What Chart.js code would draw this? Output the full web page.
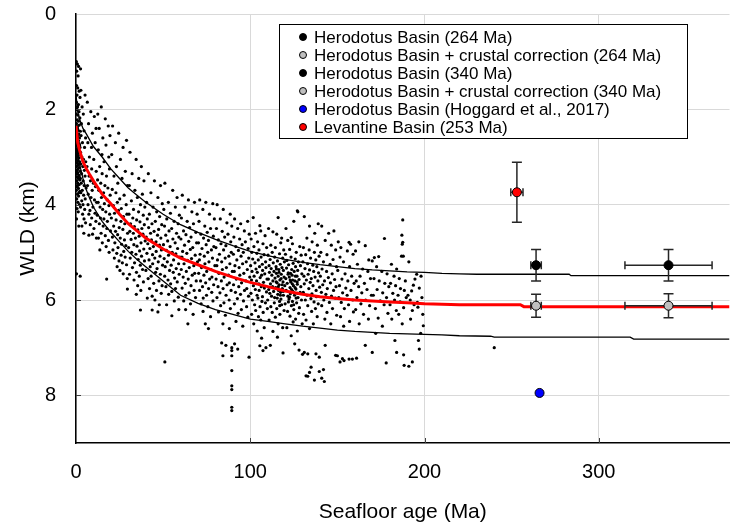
<!DOCTYPE html>
<html>
<head>
<meta charset="utf-8">
<script src="https://cdn.jsdelivr.net/npm/chart.js@4.4.1/dist/chart.umd.min.js"></script>
<style>
  html, body { margin: 0; padding: 0; background: #fff; }
  #wrap { width: 735px; height: 529px; }
</style>
</head>
<body>
<div id="wrap"><canvas id="wld" width="735" height="529"></canvas></div>
<script>
// --- Data -------------------------------------------------------------------
// Swath of observed water-loaded depths, read off the picture as age, depth pairs
var swathAgeDepth = [
  // 0-2 Ma
  0.2,1.0, 0.8,1.05, 1.5,1.1, 0.4,1.2, 2.6,1.15, 1.2,1.3,
  0.3,1.5, 1.0,1.55, 1.8,1.62, 0.6,1.7, 2.3,1.75, 0.2,1.85, 1.4,1.9, 0.9,1.95,
  0.5,2.0, 1.7,2.05, 0.1,2.1, 1.1,2.12, 2.2,2.18, 0.7,2.22, 1.5,2.25, 0.3,2.3, 1.9,2.33, 0.9,2.36,
  0.4,2.4, 1.3,2.44, 2.5,2.46, 0.6,2.5, 1.6,2.52, 0.2,2.55, 1.0,2.58, 2.0,2.6, 0.5,2.63, 1.4,2.66,
  0.8,2.7, 1.8,2.72, 0.3,2.75, 1.2,2.78, 2.3,2.8, 0.6,2.83, 1.6,2.85, 0.1,2.88, 1.0,2.9, 2.0,2.92,
  0.4,2.95, 1.3,2.97, 0.8,3.0, 1.7,3.02, 0.2,3.05, 1.1,3.08, 2.2,3.1, 0.5,3.12, 1.5,3.15, 0.9,3.18,
  0.3,3.2, 1.9,3.22, 1.2,3.25, 0.6,3.28, 2.4,3.3, 1.0,3.33, 0.2,3.36, 1.6,3.38, 0.7,3.42, 1.3,3.45,
  2.1,3.48, 0.4,3.5, 1.0,3.55, 1.8,3.58, 0.6,3.62, 1.4,3.66, 0.2,3.7, 2.2,3.72, 0.9,3.78, 1.5,3.82,
  0.4,3.88, 1.1,3.95, 2.0,4.0, 0.6,4.08, 1.3,4.15, 0.3,4.3, 1.6,4.45, 0.3,5.45, 2.4,5.5,
  0.7,2.68, 1.5,2.88, 0.3,3.01, 1.9,3.4, 0.8,3.6, 1.2,2.55, 2.1,2.75, 0.5,3.32, 1.7,3.75, 0.9,2.4,
  // 2-6 Ma
  2.8,1.6, 3.5,1.95, 4.2,2.1, 5.2,1.7, 3.1,2.3, 4.6,2.45, 5.5,2.6, 2.9,2.55, 3.7,2.7, 4.9,2.8,
  2.6,2.9, 3.4,3.0, 4.3,3.05, 5.6,3.1, 2.7,3.15, 3.9,3.2, 4.8,3.28, 3.2,3.35, 5.2,3.4, 2.5,3.45,
  4.1,3.5, 3.0,3.55, 4.7,3.6, 5.8,3.65, 3.6,3.7, 2.8,3.75, 4.4,3.8, 5.3,3.88, 3.3,3.92, 4.0,4.0,
  2.6,4.05, 5.0,4.1, 3.8,4.2, 4.6,4.3, 5.5,4.38, 3.4,4.45, 4.5,4.6,
  // 6-12 Ma
  6.5,1.85, 8.5,2.05, 7.2,2.3, 10.5,2.15, 9.4,2.5, 11.5,2.4, 6.8,2.7, 8.9,2.8, 11.0,2.7, 7.7,3.0,
  10.2,3.05, 6.3,3.2, 9.0,3.25, 11.6,3.3, 7.5,3.4, 8.3,3.5, 10.0,3.55, 11.2,3.62, 6.6,3.6, 9.3,3.7,
  7.0,3.78, 8.6,3.85, 10.6,3.9, 11.8,3.95, 6.9,4.0, 9.7,4.05, 8.0,4.12, 7.4,4.2, 10.9,4.18, 9.0,4.28,
  11.4,4.35, 8.2,4.42, 10.3,4.5, 9.5,4.62, 11.7,4.7, 7.4,4.64,
  // 12-20 Ma
  12.5,2.1, 14.5,1.95, 16.8,2.2, 13.3,2.4, 18.5,2.35, 15.4,2.6, 19.5,2.55, 17.2,2.75, 12.8,2.85, 14.9,2.95,
  18.8,3.0, 16.1,3.1, 13.6,3.2, 19.2,3.25, 15.0,3.35, 17.5,3.4, 12.4,3.48, 14.2,3.55, 16.6,3.6, 18.3,3.65,
  13.1,3.7, 15.8,3.75, 19.6,3.8, 14.6,3.85, 17.9,3.9, 12.7,3.95, 16.3,3.98, 18.9,4.02, 13.8,4.05, 15.3,4.1,
  17.1,4.15, 19.3,4.2, 12.2,4.22, 14.0,4.28, 16.0,4.3, 18.0,4.35, 13.4,4.4, 15.6,4.45, 17.7,4.5, 19.8,4.55,
  14.4,4.6, 16.8,4.65, 12.9,4.7, 18.6,4.75, 15.1,4.8, 17.3,4.88, 13.7,4.95, 19.0,5.0, 17.6,5.56,
  // 20-30 Ma
  21.0,2.35, 24.5,2.5, 22.6,2.7, 27.0,2.8, 29.0,2.65, 20.5,2.95, 25.5,3.05, 23.2,3.2, 28.3,3.3, 21.8,3.4,
  26.4,3.45, 24.0,3.55, 29.5,3.6, 20.8,3.68, 22.9,3.75, 27.6,3.8, 25.1,3.88, 23.7,3.95, 28.8,4.0, 21.4,4.02,
  26.0,4.08, 24.4,4.12, 22.1,4.18, 29.2,4.2, 27.2,4.25, 20.3,4.28, 23.0,4.32, 25.8,4.35, 28.0,4.4, 21.6,4.45,
  24.8,4.48, 26.9,4.52, 22.7,4.56, 29.6,4.6, 23.9,4.63, 20.9,4.68, 25.4,4.7, 27.8,4.74, 22.3,4.8, 26.2,4.83,
  28.6,4.86, 24.1,4.9, 21.2,4.95, 27.4,4.98, 23.4,5.02, 25.9,5.06, 28.2,5.1, 22.0,5.12, 24.7,5.18, 26.6,5.22,
  29.0,5.26, 23.6,5.3, 25.2,5.38, 27.1,5.45, 29.4,5.55, 29.5,5.77,
  // 30-40 Ma
  31.0,2.9, 34.5,3.05, 37.5,3.2, 32.2,3.35, 36.0,3.45, 39.0,3.5, 30.6,3.6, 33.8,3.7, 38.1,3.78, 35.2,3.85,
  31.8,3.92, 37.0,4.0, 39.5,4.05, 33.0,4.1, 35.9,4.15, 30.4,4.2, 38.6,4.22, 32.6,4.28, 34.8,4.32, 36.7,4.36,
  31.3,4.4, 39.2,4.42, 33.5,4.46, 37.8,4.5, 35.5,4.53, 30.9,4.56, 32.9,4.6, 38.4,4.62, 36.2,4.66, 34.1,4.7,
  31.6,4.73, 39.7,4.76, 37.3,4.8, 33.2,4.84, 35.0,4.87, 30.2,4.9, 38.9,4.93, 36.5,4.97, 32.0,5.0, 34.4,5.04,
  37.6,5.08, 31.1,5.12, 35.7,5.15, 39.3,5.18, 33.6,5.22, 36.9,5.27, 32.4,5.32, 38.2,5.36, 34.7,5.42, 30.7,5.46,
  36.3,5.5, 33.3,5.58, 38.7,5.62, 35.4,5.7, 37.2,5.8, 34.6,5.88, 37.0,6.21,
  // 40-50 Ma
  41.5,3.35, 45.0,3.5, 48.5,3.6, 43.0,3.75, 47.0,3.85, 40.5,3.95, 49.5,3.98, 44.2,4.05, 46.3,4.15, 42.1,4.2,
  48.0,4.25, 40.9,4.3, 45.5,4.35, 43.6,4.4, 49.2,4.42, 41.7,4.48, 47.4,4.52, 44.8,4.56, 42.8,4.6, 46.8,4.64,
  40.3,4.68, 48.7,4.7, 43.3,4.74, 45.9,4.78, 41.2,4.82, 47.9,4.85, 44.4,4.88, 42.4,4.92, 49.0,4.95, 46.0,4.98,
  40.7,5.02, 43.9,5.05, 48.2,5.08, 45.2,5.12, 41.9,5.16, 47.2,5.2, 44.0,5.24, 49.7,5.27, 42.6,5.3, 46.5,5.34,
  40.1,5.38, 45.7,5.42, 48.4,5.46, 43.1,5.5, 41.4,5.55, 47.6,5.6, 44.6,5.65, 49.4,5.7, 42.2,5.76, 46.2,5.8,
  48.9,5.86, 43.7,5.92, 45.3,6.0, 47.8,6.1, 40.9,5.96, 43.7,6.21, 47.0,6.25,
  // 50-60 Ma
  51.0,3.55, 55.5,3.7, 58.0,3.85, 53.0,3.95, 57.0,4.05, 50.4,4.1, 54.2,4.18, 59.3,4.22, 52.1,4.3, 56.3,4.35,
  58.6,4.4, 50.8,4.45, 54.9,4.5, 53.4,4.55, 57.7,4.6, 51.5,4.64, 59.0,4.68, 55.6,4.72, 52.6,4.76, 56.9,4.8,
  50.2,4.84, 54.0,4.88, 58.3,4.92, 51.9,4.96, 55.2,5.0, 57.3,5.03, 53.1,5.06, 59.6,5.1, 50.6,5.13, 56.0,5.16,
  52.4,5.2, 58.9,5.24, 54.6,5.27, 51.2,5.3, 57.5,5.34, 53.7,5.38, 55.8,5.42, 59.2,5.46, 50.9,5.5, 56.6,5.54,
  52.8,5.58, 58.1,5.62, 54.3,5.66, 51.6,5.72, 57.1,5.76, 55.0,5.82, 53.2,5.88, 58.7,5.94, 56.4,6.02, 52.0,6.1,
  55.0,6.33, 51.0,7.3, 59.0,6.2,
  // 60-70 Ma
  61.0,3.8, 64.5,3.9, 68.0,3.95, 62.5,4.05, 66.5,4.15, 69.5,4.2, 60.5,4.28, 63.8,4.35, 67.4,4.4, 65.2,4.48,
  61.7,4.55, 68.8,4.58, 63.1,4.63, 66.0,4.68, 60.2,4.72, 64.7,4.77, 69.2,4.8, 62.3,4.85, 67.0,4.9, 65.6,4.94,
  61.2,4.98, 63.6,5.02, 68.4,5.06, 60.8,5.1, 66.3,5.13, 64.0,5.17, 69.7,5.2, 62.0,5.24, 67.6,5.28, 65.0,5.32,
  60.4,5.36, 63.3,5.4, 68.1,5.44, 66.7,5.48, 61.5,5.52, 64.4,5.56, 69.0,5.6, 62.7,5.65, 66.0,5.7, 60.9,5.75,
  67.8,5.8, 64.9,5.85, 63.0,5.9, 68.6,5.95, 61.8,6.02, 65.7,6.08, 62.9,6.2, 67.2,6.3, 64.2,6.5,
  // 70-80 Ma
  71.0,3.9, 74.5,3.95, 78.5,3.98, 72.8,4.1, 76.6,4.2, 79.4,4.3, 70.6,4.35, 73.9,4.45, 77.2,4.5, 75.3,4.58,
  71.7,4.62, 78.8,4.66, 73.2,4.7, 76.0,4.75, 70.3,4.8, 74.7,4.84, 79.1,4.88, 72.3,4.92, 77.7,4.95, 75.6,5.0,
  71.2,5.04, 73.6,5.08, 78.3,5.12, 70.8,5.16, 76.3,5.2, 74.0,5.24, 79.7,5.28, 72.0,5.32, 77.5,5.36, 75.0,5.4,
  70.4,5.44, 73.4,5.48, 78.0,5.52, 76.7,5.56, 71.5,5.6, 74.4,5.64, 79.0,5.68, 72.6,5.72, 76.1,5.76, 70.9,5.8,
  77.9,5.84, 74.9,5.9, 73.0,5.96, 78.6,6.02, 71.8,6.08, 75.7,6.14, 72.9,6.24, 77.2,6.35, 74.2,6.5, 76.0,6.6,
  // 80-90 Ma
  81.0,4.0, 84.5,4.1, 88.5,4.2, 82.8,4.3, 86.6,4.38, 89.4,4.45, 80.6,4.5, 83.9,4.56, 87.2,4.62, 85.3,4.68,
  81.7,4.74, 88.8,4.78, 83.2,4.82, 86.0,4.86, 80.3,4.9, 84.7,4.95, 89.1,5.0, 82.3,5.04, 87.7,5.08, 85.6,5.12,
  81.2,5.16, 83.6,5.2, 88.3,5.24, 80.8,5.28, 86.3,5.32, 84.0,5.36, 89.7,5.4, 82.0,5.44, 87.5,5.48, 85.0,5.52,
  80.4,5.56, 83.4,5.6, 88.0,5.64, 86.7,5.68, 81.5,5.72, 84.4,5.76, 89.0,5.8, 82.6,5.85, 86.1,5.9, 80.9,5.95,
  87.9,6.0, 84.9,6.06, 83.0,6.12, 88.6,6.18, 81.8,6.25, 85.7,6.32, 84.3,6.5, 88.0,6.6, 83.6,6.9, 84.3,7.17,
  89.4,7.0, 89.4,7.06, 89.4,7.17, 89.4,7.48, 89.4,7.8, 89.4,7.88, 89.4,8.25, 89.4,8.32, 86.0,6.95, 91.0,6.92,
  // 90-100 Ma
  91.0,4.3, 94.5,4.4, 98.5,4.35, 92.8,4.5, 96.6,4.55, 99.4,4.62, 90.6,4.68, 93.9,4.72, 97.2,4.78, 95.3,4.84,
  91.7,4.88, 98.8,4.92, 93.2,4.96, 96.0,5.0, 90.3,5.04, 94.7,5.08, 99.1,5.12, 92.3,5.16, 97.7,5.2, 95.6,5.24,
  91.2,5.28, 93.6,5.32, 98.3,5.36, 90.8,5.4, 96.3,5.44, 94.0,5.48, 99.7,5.52, 92.0,5.56, 97.5,5.6, 95.0,5.64,
  90.4,5.68, 93.4,5.72, 98.0,5.76, 96.7,5.8, 91.5,5.84, 94.4,5.88, 99.0,5.92, 92.6,5.97, 96.1,6.02, 90.9,6.08,
  97.9,6.14, 94.9,6.2, 93.0,6.28, 98.6,6.36, 91.8,6.45, 95.7,6.55, 92.8,7.03, 99.3,7.2,
  // 100-110 Ma
  101.7,4.27, 105.5,4.44, 106.0,4.55, 103.0,4.6, 108.5,4.65, 100.5,4.72, 104.2,4.78, 107.3,4.82, 102.1,4.88, 109.4,4.9,
  105.0,4.95, 100.9,5.0, 103.8,5.02, 107.9,5.05, 106.2,5.1, 101.4,5.14, 104.6,5.16, 108.8,5.2, 102.7,5.22, 106.9,5.25,
  100.2,5.28, 105.3,5.3, 109.0,5.32, 103.3,5.35, 107.1,5.38, 101.0,5.4, 104.0,5.42, 108.3,5.45, 106.5,5.48, 102.2,5.5,
  105.7,5.53, 109.6,5.56, 100.7,5.58, 103.6,5.6, 107.6,5.63, 104.9,5.66, 101.8,5.7, 106.3,5.72, 108.1,5.75, 102.9,5.78,
  105.1,5.8, 109.3,5.83, 100.4,5.86, 103.9,5.9, 107.0,5.93, 104.4,5.96, 101.2,6.0, 106.7,6.03, 108.7,6.06, 102.5,6.1,
  105.6,6.14, 109.8,6.18, 103.1,6.22, 107.4,6.26, 100.8,6.3, 104.7,6.35, 106.0,6.42, 102.0,6.5, 108.0,6.58, 104.0,6.65,
  106.5,6.8, 105.5,6.96, 107.3,7.06, 109.0,7.0,
  // 110-120 Ma
  110.5,4.5, 113.0,4.57, 116.0,4.27, 115.2,4.62, 118.0,4.7, 117.5,4.8, 111.8,4.85, 114.4,4.9, 119.2,4.95, 112.6,5.0,
  116.8,5.03, 110.2,5.06, 114.0,5.1, 118.6,5.12, 111.4,5.15, 115.6,5.18, 119.6,5.2, 113.2,5.22, 117.2,5.25, 110.8,5.28,
  114.8,5.3, 118.2,5.32, 112.0,5.34, 116.4,5.36, 119.0,5.38, 113.6,5.4, 111.0,5.42, 115.0,5.44, 117.8,5.46, 112.4,5.48,
  116.0,5.5, 119.4,5.52, 114.2,5.54, 110.4,5.56, 117.0,5.58, 113.0,5.6, 118.8,5.62, 115.4,5.64, 111.6,5.66, 116.6,5.68,
  119.8,5.7, 112.8,5.72, 114.6,5.74, 118.4,5.76, 110.6,5.78, 116.2,5.8, 113.4,5.82, 117.4,5.84, 111.2,5.86, 115.8,5.88,
  119.0,5.9, 112.2,5.92, 114.0,5.95, 117.6,5.98, 110.0,6.0, 116.8,6.03, 113.8,6.06, 118.0,6.1, 111.8,6.14, 115.2,6.18,
  119.4,6.22, 112.6,6.26, 117.0,6.3, 114.4,6.36, 110.8,6.42, 116.0,6.5, 118.6,6.58, 113.0,6.66, 115.6,6.78, 118.8,7.11,
  111.5,6.95,
  115.0,5.35, 116.5,5.42, 117.7,5.55, 114.9,5.62, 118.3,5.68, 116.1,5.72, 117.3,5.9, 115.5,5.96, 118.9,5.82, 116.9,6.12,
  // 120-130 Ma
  120.5,4.5, 123.5,4.69, 127.0,4.13, 127.3,4.15, 125.0,4.35, 121.5,4.75, 124.2,4.82, 128.4,4.88, 122.6,4.94, 126.4,5.0,
  120.2,5.04, 129.2,5.06, 123.4,5.1, 125.8,5.14, 121.0,5.17, 127.6,5.2, 124.6,5.23, 122.0,5.26, 128.8,5.28, 126.0,5.3,
  120.8,5.33, 123.8,5.36, 127.2,5.38, 125.2,5.4, 121.8,5.43, 129.6,5.45, 124.0,5.48, 126.8,5.5, 122.4,5.52, 120.4,5.55,
  128.0,5.57, 125.6,5.6, 123.2,5.62, 121.2,5.65, 127.0,5.67, 124.8,5.7, 129.0,5.72, 122.8,5.74, 126.2,5.77, 120.6,5.8,
  124.4,5.82, 128.6,5.84, 123.0,5.87, 125.4,5.9, 121.6,5.92, 127.4,5.95, 122.2,5.98, 129.4,6.0, 124.2,6.03, 126.6,6.06,
  120.0,6.08, 123.6,6.12, 128.2,6.16, 125.0,6.2, 121.4,6.24, 127.8,6.28, 122.8,6.34, 126.0,6.4, 124.6,6.46, 129.8,6.5,
  121.0,6.58, 127.0,6.65, 123.5,6.75, 125.5,6.92, 128.0,7.05, 130.0,7.14,
  121.7,5.46, 122.9,5.58, 124.1,5.66, 125.9,5.5, 126.9,5.62, 123.7,5.78, 125.1,5.85, 122.5,5.94, 126.3,5.96, 124.9,6.1,
  123.1,5.44, 125.7,5.74, 121.9,6.04, 127.1,5.86, 124.3,5.58,
  // 130-140 Ma
  131.0,4.25, 134.0,4.45, 137.0,4.6, 139.0,4.4, 132.5,4.7, 135.5,4.78, 138.5,4.85, 130.5,4.9, 133.8,4.95, 136.8,5.0,
  131.8,5.05, 139.5,5.08, 134.6,5.12, 137.6,5.16, 130.2,5.2, 132.9,5.24, 135.9,5.27, 138.2,5.3, 131.4,5.34, 134.0,5.37,
  136.4,5.4, 139.2,5.43, 133.2,5.46, 130.8,5.5, 137.2,5.52, 135.0,5.55, 132.2,5.58, 138.8,5.6, 134.4,5.63, 131.0,5.66,
  136.0,5.7, 139.8,5.73, 133.6,5.76, 137.8,5.8, 130.4,5.84, 135.4,5.87, 132.6,5.9, 138.0,5.93, 134.8,5.97, 131.6,6.0,
  136.6,6.04, 139.0,6.08, 133.0,6.12, 137.4,6.18, 135.2,6.24, 130.6,6.3, 138.4,6.35, 132.0,6.42, 136.2,6.5, 134.0,6.6,
  131.0,7.1, 133.0,7.13, 132.0,7.59, 134.9,7.41, 134.0,7.52, 133.0,7.6, 136.8,7.68, 137.7,7.13, 139.6,7.2, 139.6,7.5,
  // 140-150 Ma
  141.0,4.45, 145.0,4.6, 148.0,4.55, 143.0,4.75, 146.5,4.85, 149.0,4.95, 140.5,5.0, 144.0,5.05, 147.5,5.15, 142.0,5.2,
  145.8,5.25, 149.5,5.3, 141.2,5.35, 143.8,5.4, 147.0,5.45, 140.2,5.5, 144.8,5.53, 148.4,5.57, 142.6,5.6, 146.0,5.64,
  141.6,5.68, 149.2,5.72, 144.2,5.76, 147.8,5.8, 140.8,5.84, 143.4,5.88, 146.6,5.92, 148.8,5.96, 142.2,6.0, 145.4,6.05,
  141.0,6.12, 147.2,6.18, 144.0,6.26, 149.6,6.32, 142.8,6.4, 146.2,6.5, 141.0,7.64, 142.5,7.71, 142.0,7.46, 143.0,6.95,
  149.0,7.16,
  // 150-160 Ma
  150.5,4.78, 152.0,4.9, 155.7,4.97, 156.7,4.79, 157.6,4.83, 159.0,5.04, 151.5,5.1, 153.5,5.2, 157.0,5.3, 150.2,5.38,
  154.4,5.45, 158.2,5.5, 152.6,5.56, 156.0,5.6, 159.6,5.65, 151.2,5.7, 154.8,5.75, 157.8,5.8, 153.0,5.85, 155.6,5.9,
  150.8,5.95, 158.8,6.0, 152.2,6.05, 156.4,6.1, 154.0,6.18, 159.2,6.25, 151.8,6.35, 157.0,6.45, 153.6,6.55, 150.0,7.17,
  152.9,7.23, 151.5,7.3, 153.8,7.27, 156.7,7.24, 158.6,7.24,
  // 160-170 Ma
  160.4,4.97, 162.3,4.78, 166.0,4.86, 168.0,5.16, 161.5,5.25, 164.5,5.35, 167.5,5.4, 163.0,5.5, 169.0,5.55, 160.8,5.6,
  165.5,5.65, 162.2,5.72, 167.0,5.78, 164.0,5.85, 169.5,5.9, 161.2,5.95, 166.2,6.0, 163.5,6.08, 168.5,6.12, 160.5,6.2,
  165.0,6.3, 167.8,6.4, 162.5,6.5, 161.0,7.22, 170.0,7.1, 166.0,6.95,
  // 170-180 Ma
  170.0,5.18, 171.2,5.11, 173.7,5.09, 177.0,4.71, 172.5,5.3, 175.5,5.4, 178.5,5.45, 171.0,5.55, 174.0,5.6, 177.2,5.65,
  179.5,5.72, 172.8,5.78, 176.0,5.85, 170.6,5.9, 178.2,5.95, 174.6,6.02, 176.8,6.1, 171.8,6.18, 179.0,6.28, 173.4,6.38,
  175.8,6.55, 178.0,7.32, 172.0,6.7,
  // 180-190 Ma
  187.5,4.32, 187.0,4.64, 187.5,4.79, 187.2,4.83, 186.8,5.08, 187.8,5.08, 181.0,5.25, 184.0,5.35, 182.5,5.5, 185.5,5.55,
  189.0,5.6, 180.5,5.65, 183.4,5.7, 186.2,5.76, 188.4,5.8, 181.8,5.86, 184.8,5.9, 189.5,5.95, 182.8,6.0, 186.0,6.04,
  180.2,6.1, 188.0,6.16, 183.8,6.22, 185.2,6.3, 181.2,6.4, 187.2,6.5, 184.0,7.1, 188.0,7.15, 188.3,7.37, 183.0,6.85,
  // 190-200 Ma and beyond
  191.0,5.2, 195.5,5.46, 194.5,5.56, 193.6,5.69, 192.6,5.81, 195.9,6.05, 190.5,5.9, 197.0,5.75, 198.5,5.95, 191.8,6.0,
  196.2,6.15, 193.0,6.22, 199.0,6.3, 192.0,6.4, 197.8,6.7, 199.3,6.54, 191.0,7.39, 193.0,7.3, 197.0,7.03, 196.5,6.85,
  198.0,5.5, 194.0,6.1, 240.0,7.0
];

// Model depth curves (age Ma, depth km)
var upperCurve = [
  [0,1.7],[1,2.05],[2,2.2],[4,2.4],[6,2.52],[8,2.65],[10,2.78],[15,3.0],[20,3.25],[25,3.45],
  [30,3.65],[35,3.8],[40,3.95],[50,4.2],[60,4.42],[70,4.58],[80,4.73],[90,4.86],[100,4.98],
  [110,5.07],[120,5.15],[130,5.21],[140,5.26],[150,5.3],[160,5.34],[170,5.37],[180,5.39],
  [190,5.41],[200,5.42],[210,5.44],[220,5.45],[230,5.46],[283,5.46],[284,5.49],[375,5.49]
];
var meanCurve = [
  [0,2.35],[1,2.7],[2,2.85],[4,3.1],[6,3.25],[8,3.38],[10,3.5],[15,3.78],[20,3.98],[25,4.2],
  [30,4.4],[35,4.55],[40,4.7],[50,4.93],[60,5.12],[70,5.26],[80,5.4],[90,5.52],[100,5.63],
  [110,5.72],[120,5.81],[130,5.88],[140,5.93],[150,5.97],[160,6.0],[170,6.02],[180,6.04],
  [190,6.06],[200,6.08],[210,6.09],[220,6.1],[255,6.1],[257,6.14],[375,6.14]
];
var lowerCurve = [
  [0,2.5],[1,2.95],[2,3.15],[4,3.45],[6,3.7],[8,3.88],[10,4.05],[15,4.35],[20,4.58],[25,4.78],
  [30,4.98],[35,5.15],[40,5.3],[50,5.6],[60,5.9],[70,6.07],[80,6.2],[90,6.3],[100,6.4],
  [110,6.45],[120,6.5],[130,6.55],[140,6.59],[150,6.63],[160,6.66],[170,6.68],[180,6.7],
  [190,6.71],[200,6.72],[210,6.73],[220,6.75],[238,6.76],[240,6.78],[318,6.78],[320,6.82],[375,6.82]
];

// Basin estimates with error bars
var obsLabels = [
  'Herodotus Basin (264 Ma)',
  'Herodotus Basin + crustal correction (264 Ma)',
  'Herodotus Basin (340 Ma)',
  'Herodotus Basin + crustal correction (340 Ma)',
  'Herodotus Basin (Hoggard et al., 2017)',
  'Levantine Basin (253 Ma)'
];
var obsAges     = [264, 264, 340, 340, 266, 253];
var obsDepths   = [5.27, 6.12, 5.27, 6.12, 7.95, 3.74];
var obsAgeErr   = [3, 3, 25, 25, 0, 3.5];
var obsDepthErr = [0.33, 0.24, 0.33, 0.25, 0, 0.63];

var xTicks = [0, 100, 200, 300];
var yTicks = [0, 2, 4, 6, 8];

// --- Helpers ------------------------------------------------------------------
var FONT = "'Liberation Sans', Arial, sans-serif";
var obsFill = ['#000000', '#bfbfbf', '#000000', '#bfbfbf', '#0000ff', '#ff0000'];

function toXY(pairs){
  return pairs.map(function(p){ return { x: p[0], y: p[1] }; });
}

var swath = [];
for (var i = 0; i < swathAgeDepth.length; i += 2) {
  swath.push({ x: swathAgeDepth[i], y: swathAgeDepth[i + 1] });
}

// error bars are drawn just before their marker dataset, so the marker sits on top
var errorBarPlugin = {
  id: 'errorBars',
  beforeDatasetDraw: function(chart, args){
    var ds = chart.data.datasets[args.index];
    if (ds.obsIndex === undefined) return;
    var k = ds.obsIndex;
    var xs = chart.scales.x, ys = chart.scales.y;
    var cx = xs.getPixelForValue(obsAges[k]);
    var cy = ys.getPixelForValue(obsDepths[k]);
    var ctx = chart.ctx;
    ctx.save();
    ctx.strokeStyle = '#262626';
    ctx.lineWidth = 1.5;
    ctx.beginPath();
    if (obsDepthErr[k] > 0) {
      var y1 = ys.getPixelForValue(obsDepths[k] - obsDepthErr[k]);
      var y2 = ys.getPixelForValue(obsDepths[k] + obsDepthErr[k]);
      ctx.moveTo(cx, y1); ctx.lineTo(cx, y2);
      ctx.moveTo(cx - 5, y1); ctx.lineTo(cx + 5, y1);
      ctx.moveTo(cx - 5, y2); ctx.lineTo(cx + 5, y2);
    }
    if (obsAgeErr[k] > 0) {
      var x1 = xs.getPixelForValue(obsAges[k] - obsAgeErr[k]);
      var x2 = xs.getPixelForValue(obsAges[k] + obsAgeErr[k]);
      ctx.moveTo(x1, cy); ctx.lineTo(x2, cy);
      ctx.moveTo(x1, cy - 4); ctx.lineTo(x1, cy + 4);
      ctx.moveTo(x2, cy - 4); ctx.lineTo(x2, cy + 4);
    }
    ctx.stroke();
    ctx.restore();
  }
};

// inward tick marks + boxed legend inside the plot
var decorPlugin = {
  id: 'decor',
  afterDraw: function(chart){
    var ctx = chart.ctx, area = chart.chartArea;
    var xs = chart.scales.x, ys = chart.scales.y;
    ctx.save();
    ctx.strokeStyle = '#404040';
    ctx.lineWidth = 1;
    ctx.beginPath();
    xTicks.slice(1).forEach(function(v){
      var px = Math.round(xs.getPixelForValue(v)) + 0.5;
      ctx.moveTo(px, area.bottom); ctx.lineTo(px, area.bottom - 5);
    });
    yTicks.slice(1).forEach(function(v){
      var py = Math.round(ys.getPixelForValue(v)) + 0.5;
      ctx.moveTo(area.left, py); ctx.lineTo(area.left + 5, py);
    });
    ctx.stroke();

    // legend
    var bx = 279.5, by = 24.5, bw = 408, bh = 114;
    ctx.fillStyle = '#fff';
    ctx.fillRect(bx, by, bw, bh);
    ctx.strokeStyle = '#000';
    ctx.strokeRect(bx, by, bw, bh);
    ctx.font = '17px ' + FONT;
    ctx.textBaseline = 'middle';
    ctx.textAlign = 'left';
    obsLabels.forEach(function(label, k){
      var ry = 37 + k * 18;
      ctx.beginPath();
      ctx.arc(303, ry, 3.5, 0, Math.PI * 2);
      ctx.fillStyle = obsFill[k];
      ctx.fill();
      ctx.strokeStyle = '#000';
      ctx.lineWidth = 1;
      ctx.stroke();
      ctx.fillStyle = '#000';
      ctx.fillText(label, 314, ry + 1);
    });
    ctx.restore();
  }
};

// --- Chart --------------------------------------------------------------------
var datasets = [{
  label: 'swath',
  data: swath,
  showLine: false,
  pointRadius: 1.6,
  pointBackgroundColor: '#000',
  pointBorderWidth: 0,
  order: 4
},{
  label: 'upper',
  data: toXY(upperCurve),
  showLine: true,
  borderColor: '#000',
  borderWidth: 1.3,
  pointRadius: 0,
  tension: 0,
  order: 3
},{
  label: 'lower',
  data: toXY(lowerCurve),
  showLine: true,
  borderColor: '#000',
  borderWidth: 1.3,
  pointRadius: 0,
  tension: 0,
  order: 3
},{
  label: 'mean',
  data: toXY(meanCurve),
  showLine: true,
  borderColor: '#ff0000',
  borderWidth: 3,
  pointRadius: 0,
  tension: 0,
  order: 2
}];

obsLabels.forEach(function(label, k){
  datasets.push({
    label: label,
    data: [{ x: obsAges[k], y: obsDepths[k] }],
    obsIndex: k,
    showLine: false,
    pointRadius: 4.5,
    pointBackgroundColor: obsFill[k],
    pointBorderColor: '#000',
    pointBorderWidth: 1,
    order: 0
  });
});

Chart.defaults.font.family = FONT;
Chart.defaults.color = '#000';

new Chart(document.getElementById('wld'), {
  type: 'scatter',
  data: { datasets: datasets },
  plugins: [errorBarPlugin, decorPlugin],
  options: {
    responsive: false,
    animation: false,
    devicePixelRatio: 1,
    layout: { padding: { top: 14, right: 0, left: 0, bottom: 0 } },
    plugins: { legend: { display: false }, tooltip: { enabled: false } },
    scales: {
      x: {
        type: 'linear',
        min: 0,
        max: 375,
        afterFit: function(s){ s.height = 86; s.paddingLeft = 0; s.paddingRight = 0; },
        ticks: { stepSize: 100, includeBounds: false, padding: 17, font: { size: 20 }, color: '#000' },
        grid: { color: '#d9d9d9', drawTicks: false },
        border: { color: '#000', width: 1.5 },
        title: { display: true, text: 'Seafloor age (Ma)', font: { size: 21 }, padding: { top: 0, bottom: 4 }, color: '#000' }
      },
      y: {
        type: 'linear',
        reverse: true,
        min: 0,
        max: 9,
        afterFit: function(s){ s.width = 76; s.paddingTop = 0; s.paddingBottom = 0; },
        ticks: { stepSize: 2, includeBounds: false, padding: 20, font: { size: 20 }, color: '#000' },
        grid: { color: '#d9d9d9', drawTicks: false },
        border: { color: '#000', width: 1.5 },
        title: { display: true, text: 'WLD (km)', font: { size: 21 }, padding: { top: 16, bottom: 0 }, color: '#000' }
      }
    }
  }
});
</script>
</body>
</html>
